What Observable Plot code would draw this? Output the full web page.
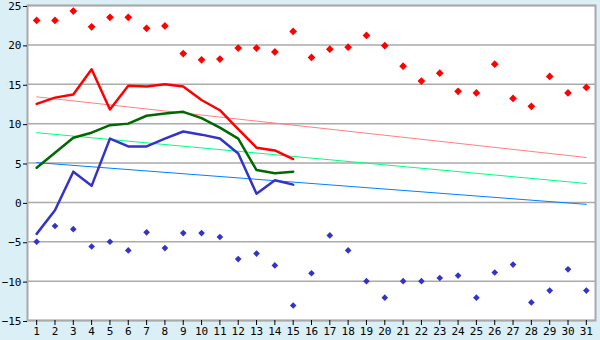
<!DOCTYPE html>
<html>
<head>
<meta charset="utf-8">
<script src="https://cdn.jsdelivr.net/npm/d3@7"></script>
<script src="https://cdn.jsdelivr.net/npm/@observablehq/plot@0.6"></script>
<style>
  html, body { margin: 0; padding: 0; background: #daeff6; }
  #chart { width: 600px; height: 340px; }
</style>
</head>
<body>
<div id="chart"></div>
<script>
const days = [1,2,3,4,5,6,7,8,9,10,11,12,13,14,15,16,17,18,19,20,21,22,23,24,25,26,27,28,29,30,31];
const maxT = [23.1,23.1,24.3,22.3,23.5,23.5,22.1,22.4,18.9,18.1,18.2,19.6,19.6,19.1,21.7,18.4,19.45,19.7,21.2,19.9,17.3,15.4,16.4,14.1,13.9,17.55,13.2,12.2,16.0,13.9,14.6];
const minT = [-5.0,-3.0,-3.4,-5.6,-5.0,-6.1,-3.8,-5.8,-3.9,-3.9,-4.4,-7.2,-6.5,-8.0,-13.1,-9.0,-4.2,-6.1,-10.0,-12.1,-10.0,-10.0,-9.6,-9.3,-12.1,-8.9,-7.9,-12.7,-11.2,-8.5,-11.2];
const lineDays = [1,2,3,4,5,6,7,8,9,10,11,12,13,14,15];
const redLine = [12.5,13.3,13.7,16.9,11.8,14.8,14.7,15.0,14.7,13.0,11.7,9.3,6.95,6.6,5.5];
const greenLine = [4.4,6.3,8.2,8.85,9.8,10.0,11.0,11.3,11.5,10.7,9.5,8.1,4.1,3.7,3.9];
const blueLine = [-4.0,-1.0,3.9,2.1,8.1,7.1,7.1,8.1,9.0,8.6,8.1,6.2,1.1,2.8,2.25];
const trendDays = [1, 31];
const trendRed = [13.4, 5.7];
const trendGreen = [8.85, 2.4];
const trendBlue = [5.05, -0.25];
const yTicks = [-15,-10,-5,0,5,10,15,20,25];

const pts = (xs, ys) => xs.map((x, i) => ({x, y: ys[i]}));

const chart = Plot.plot({
  width: 600,
  height: 340,
  marginLeft: 27,
  marginRight: 5,
  marginTop: 5,
  marginBottom: 20,
  style: {background: "#daeff6", fontFamily: "'DejaVu Sans Mono', monospace", fontSize: "11px", color: "#000", overflow: "visible"},
  x: {domain: [0.5, 31.5], label: null},
  y: {domain: [-15, 25], label: null},
  marks: [
    Plot.frame({fill: "white", stroke: "none"}),
    Plot.ruleY(yTicks, {stroke: "#aaaaaa", strokeWidth: 1.5}),
    Plot.frame({stroke: "#aaaaaa", strokeWidth: 2}),
    Plot.axisX({ticks: days, tickFormat: d => String(d), tickSize: 5, tickPadding: 2, stroke: "#000", fontSize: 11}),
    Plot.axisY({ticks: yTicks, tickSize: 4, tickPadding: 2, fontSize: 11, dy: 1}),
    Plot.line(pts(trendDays, trendRed), {x: "x", y: "y", stroke: "#ff8080", strokeWidth: 1}),
    Plot.line(pts(trendDays, trendGreen), {x: "x", y: "y", stroke: "#00ff80", strokeWidth: 1}),
    Plot.line(pts(trendDays, trendBlue), {x: "x", y: "y", stroke: "#0080ff", strokeWidth: 1}),
    Plot.line(pts(lineDays, redLine), {x: "x", y: "y", stroke: "#ff0000", strokeWidth: 2.5}),
    Plot.line(pts(lineDays, greenLine), {x: "x", y: "y", stroke: "#006800", strokeWidth: 2.5}),
    Plot.line(pts(lineDays, blueLine), {x: "x", y: "y", stroke: "#3333cc", strokeWidth: 2.5}),
    Plot.dot(pts(days, maxT), {x: "x", y: "y", symbol: "diamond2", r: 3.5, fill: "#ff0000", stroke: "none"}),
    Plot.dot(pts(days, minT), {x: "x", y: "y", symbol: "diamond2", r: 3, fill: "#3333cc", stroke: "none"})
  ]
});
document.getElementById("chart").appendChild(chart);
</script>
</body>
</html>
